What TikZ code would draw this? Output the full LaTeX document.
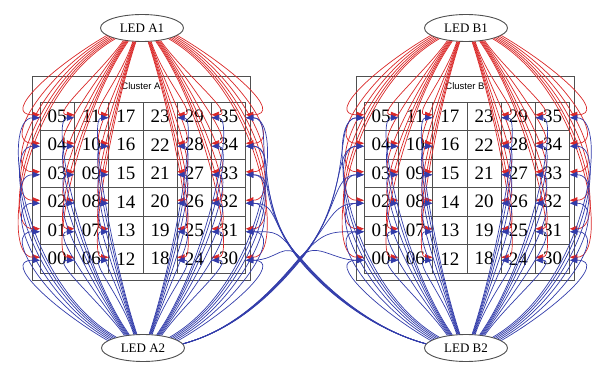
\documentclass[tikz,border=0pt]{standalone}
\usepackage{fontspec}
\setmainfont{Liberation Serif}
\newfontfamily\clfont{Liberation Sans}
\usetikzlibrary{arrows.meta,calc,shapes.geometric}
\definecolor{edgered}{RGB}{218,40,40}
\definecolor{edgeblue}{RGB}{50,60,170}
\definecolor{gridgray}{RGB}{80,80,80}
\begin{document}
\begin{tikzpicture}[x=1pt,y=1pt,
  cellbox/.style={draw=gridgray, line width=0.8pt, minimum width=34.3pt, minimum height=28.5pt, inner sep=0pt, outer sep=0pt, font=\fontsize{19}{19}\selectfont},
  frame/.style={draw=gridgray, line width=0.8pt, minimum width=218pt, minimum height=204pt, inner sep=0pt, outer sep=0pt},
  led/.style={ellipse, draw=gridgray, fill=white, line width=0.9pt, minimum width=83pt, minimum height=27pt, inner sep=0pt, font=\fontsize{13}{13}\selectfont},
  cltitle/.style={font=\clfont\fontsize{9.5}{9.5}\selectfont},
  redE/.style={draw=edgered, line width=0.7pt, -{Triangle[length=7.5pt,width=6pt]}},
  blueE/.style={draw=edgeblue, line width=0.7pt, -{Triangle[length=7.5pt,width=6pt]}},
]
\useasboundingbox (0,0) rectangle (598,365);
% clusters
\foreach \cl/\dx in {A/0,B/324}{
  \node[frame] (\cl-frame) at (141+\dx,187) {};
  \node[cltitle] (\cl-title) at (141+\dx,279) {Cluster \cl};
  \foreach \c in {0,...,5}{
    \foreach \r in {0,...,5}{
      \pgfmathtruncatemacro{\n}{6*\c+5-\r}
      \node[cellbox] (\cl-\c-\r) at ({40+\dx+34.3*(\c+0.5)},{263-28.5*(\r+0.5)}) {\ifnum\n<10 0\fi\n};
    }
  }
}
% LEDs
\node[led] (A1) at (142,337) {LED A1};
\node[led] (A2) at (143,17) {LED A2};
\node[led] (B1) at (466,337) {LED B1};
\node[led] (B2) at (466,17) {LED B2};
% red edges
\foreach \cl/\ledT in {A/A1,B/B1}{
  \foreach \r in {0,...,5}{
    \foreach \c/\an/\ou/\od/\id in {0/192/210/60/40, 1/214/235/40/24, 2/236/252/40/20}{
      \pgfmathtruncatemacro{\a}{\an+2*\r}
      \pgfmathsetmacro{\odist}{\od+10*\r}
      \draw[redE] (\ledT.\a) to[out=\ou, in=180, out distance=\odist pt, in distance=\id pt] ($(\cl-\c-\r.west)+(0,1.5)$);
    }
    \foreach \c/\an/\ou/\od/\id in {5/192/210/60/40, 4/214/235/40/24, 3/236/252/40/20}{
      \pgfmathtruncatemacro{\a}{mod(360+180-\an-2*\r,360)}
      \pgfmathtruncatemacro{\o}{mod(360+180-\ou,360)}
      \pgfmathsetmacro{\odist}{\od+10*\r}
      \draw[redE] (\ledT.\a) to[out=\o, in=0, out distance=\odist pt, in distance=\id pt] ($(\cl-\c-\r.east)+(0,1.5)$);
    }
  }
}
% blue edges
\foreach \cl/\ledB in {A/A2,B/B2}{
  \foreach \r in {0,...,5}{
    \pgfmathtruncatemacro{\rr}{5-\r}
    \foreach \c/\an/\ou/\od/\id in {0/192/210/60/40, 1/214/235/40/24, 2/236/252/40/20}{
      \pgfmathtruncatemacro{\a}{360-\an-2*\rr}
      \pgfmathtruncatemacro{\o}{360-\ou}
      \pgfmathsetmacro{\odist}{\od+10*\rr}
      \draw[blueE] (\ledB.\a) to[out=\o, in=180, out distance=\odist pt, in distance=\id pt] ($(\cl-\c-\r.west)+(0,-1.5)$);
    }
    \foreach \c/\an/\ou/\od/\id in {5/192/210/60/40, 4/214/235/40/24, 3/236/252/40/20}{
      \pgfmathtruncatemacro{\a}{\an+2*\rr-180}
      \pgfmathtruncatemacro{\o}{\ou-180}
      \pgfmathsetmacro{\odist}{\od+10*\rr}
      \draw[blueE] (\ledB.\a) to[out=\o, in=0, out distance=\odist pt, in distance=\id pt] ($(\cl-\c-\r.east)+(0,-1.5)$);
    }
  }
}
% crossing edges
\coordinate (XC) at (300,103);
\foreach \r in {0,...,5}{
  \pgfmathtruncatemacro{\rr}{5-\r}
  \pgfmathsetmacro{\dd}{25+13*\rr}
  \draw[blueE] (A2.6) to[out=15, in=230, out distance=55pt, in distance=40pt] ($(XC)+(-1,0.7*\r)$)
     to[out=50, in=180, out distance=\dd pt, in distance=32pt] ($(B-0-\r.west)+(0,-1.5)$);
  \draw[blueE] (B2.174) to[out=165, in=310, out distance=55pt, in distance=40pt] ($(XC)+(1,0.7*\r)$)
     to[out=130, in=0, out distance=\dd pt, in distance=32pt] ($(A-5-\r.east)+(0,-1.5)$);
}
\end{tikzpicture}
\end{document}
